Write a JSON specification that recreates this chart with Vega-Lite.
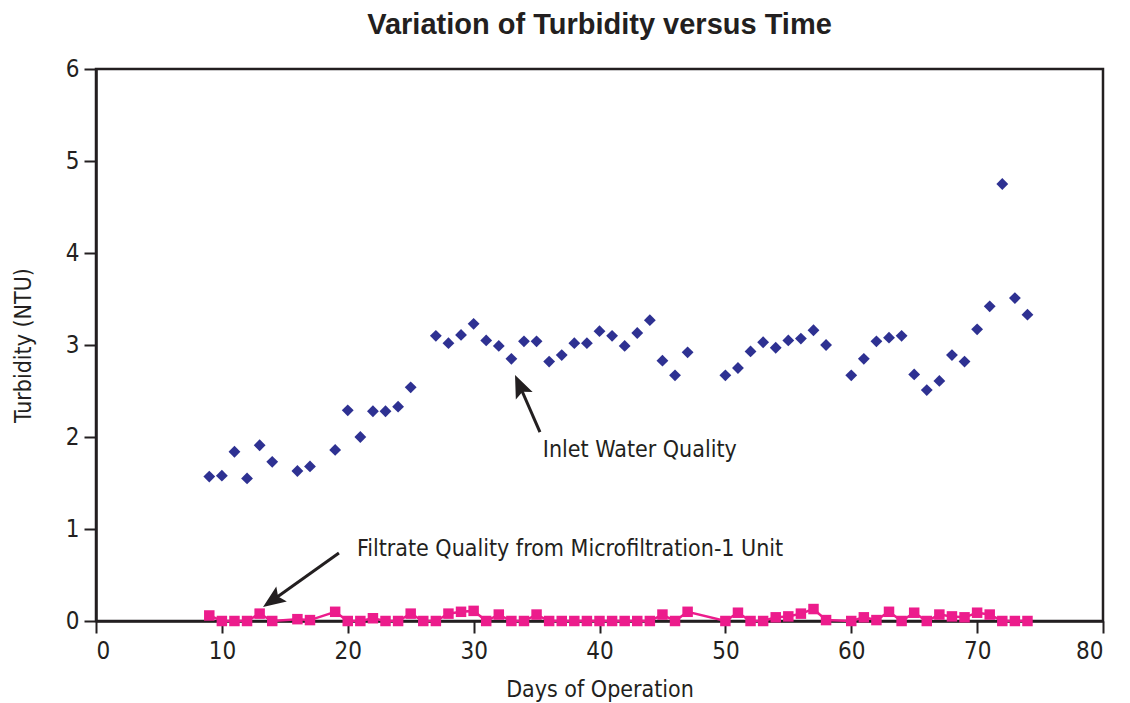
{
  "$schema": "https://vega.github.io/schema/vega-lite/v6.json",
  "width": 1007,
  "height": 552,
  "autosize": {"type": "none"},
  "padding": {"left": 96, "top": 69, "right": 27, "bottom": 82},
  "background": "white",
  "title": {
    "text": "Variation of Turbidity versus Time",
    "font": "Liberation Sans",
    "fontSize": 29,
    "fontWeight": "bold",
    "color": "#231F20",
    "anchor": "middle",
    "offset": 17
  },
  "config": {
    "view": {"stroke": "#231F20", "strokeWidth": 2.5},
    "axis": {
      "domainColor": "#231F20",
      "domainWidth": 2.5,
      "tickColor": "#231F20",
      "tickWidth": 2,
      "tickSize": 12,
      "grid": false,
      "labelFont": "DejaVu Sans Condensed, sans-serif",
      "labelFontSize": 24,
      "labelColor": "#231F20",
      "titleFont": "DejaVu Sans Condensed, sans-serif",
      "titleFontSize": 23,
      "titleFontWeight": "normal",
      "titleColor": "#231F20"
    }
  },
  "datasets": {
    "inlet": [
      {"day": 9, "ntu": 1.57}, {"day": 10, "ntu": 1.58}, {"day": 11, "ntu": 1.84}, {"day": 12, "ntu": 1.55},
      {"day": 13, "ntu": 1.91}, {"day": 14, "ntu": 1.73}, {"day": 16, "ntu": 1.63}, {"day": 17, "ntu": 1.68},
      {"day": 19, "ntu": 1.86}, {"day": 20, "ntu": 2.29}, {"day": 21, "ntu": 2.0}, {"day": 22, "ntu": 2.28},
      {"day": 23, "ntu": 2.28}, {"day": 24, "ntu": 2.33}, {"day": 25, "ntu": 2.54}, {"day": 27, "ntu": 3.1},
      {"day": 28, "ntu": 3.02}, {"day": 29, "ntu": 3.11}, {"day": 30, "ntu": 3.23}, {"day": 31, "ntu": 3.05},
      {"day": 32, "ntu": 2.99}, {"day": 33, "ntu": 2.85}, {"day": 34, "ntu": 3.04}, {"day": 35, "ntu": 3.04},
      {"day": 36, "ntu": 2.82}, {"day": 37, "ntu": 2.89}, {"day": 38, "ntu": 3.02}, {"day": 39, "ntu": 3.02},
      {"day": 40, "ntu": 3.15}, {"day": 41, "ntu": 3.1}, {"day": 42, "ntu": 2.99}, {"day": 43, "ntu": 3.13},
      {"day": 44, "ntu": 3.27}, {"day": 45, "ntu": 2.83}, {"day": 46, "ntu": 2.67}, {"day": 47, "ntu": 2.92},
      {"day": 50, "ntu": 2.67}, {"day": 51, "ntu": 2.75}, {"day": 52, "ntu": 2.93}, {"day": 53, "ntu": 3.03},
      {"day": 54, "ntu": 2.97}, {"day": 55, "ntu": 3.05}, {"day": 56, "ntu": 3.07}, {"day": 57, "ntu": 3.16},
      {"day": 58, "ntu": 3.0}, {"day": 60, "ntu": 2.67}, {"day": 61, "ntu": 2.85}, {"day": 62, "ntu": 3.04},
      {"day": 63, "ntu": 3.08}, {"day": 64, "ntu": 3.1}, {"day": 65, "ntu": 2.68}, {"day": 66, "ntu": 2.51},
      {"day": 67, "ntu": 2.61}, {"day": 68, "ntu": 2.89}, {"day": 69, "ntu": 2.82}, {"day": 70, "ntu": 3.17},
      {"day": 71, "ntu": 3.42}, {"day": 72, "ntu": 4.75}, {"day": 73, "ntu": 3.51}, {"day": 74, "ntu": 3.33}
    ],
    "filtrate": [
      {"day": 9, "ntu": 0.06}, {"day": 10, "ntu": 0.0}, {"day": 11, "ntu": 0.0}, {"day": 12, "ntu": 0.0},
      {"day": 13, "ntu": 0.08}, {"day": 14, "ntu": 0.0}, {"day": 16, "ntu": 0.02}, {"day": 17, "ntu": 0.01},
      {"day": 19, "ntu": 0.1}, {"day": 20, "ntu": 0.0}, {"day": 21, "ntu": 0.0}, {"day": 22, "ntu": 0.03},
      {"day": 23, "ntu": 0.0}, {"day": 24, "ntu": 0.0}, {"day": 25, "ntu": 0.08}, {"day": 26, "ntu": 0.0},
      {"day": 27, "ntu": 0.0}, {"day": 28, "ntu": 0.08}, {"day": 29, "ntu": 0.1}, {"day": 30, "ntu": 0.11},
      {"day": 31, "ntu": 0.0}, {"day": 32, "ntu": 0.07}, {"day": 33, "ntu": 0.0}, {"day": 34, "ntu": 0.0},
      {"day": 35, "ntu": 0.07}, {"day": 36, "ntu": 0.0}, {"day": 37, "ntu": 0.0}, {"day": 38, "ntu": 0.0},
      {"day": 39, "ntu": 0.0}, {"day": 40, "ntu": 0.0}, {"day": 41, "ntu": 0.0}, {"day": 42, "ntu": 0.0},
      {"day": 43, "ntu": 0.0}, {"day": 44, "ntu": 0.0}, {"day": 45, "ntu": 0.07}, {"day": 46, "ntu": 0.0},
      {"day": 47, "ntu": 0.1}, {"day": 50, "ntu": 0.0}, {"day": 51, "ntu": 0.09}, {"day": 52, "ntu": 0.0},
      {"day": 53, "ntu": 0.0}, {"day": 54, "ntu": 0.04}, {"day": 55, "ntu": 0.05}, {"day": 56, "ntu": 0.08},
      {"day": 57, "ntu": 0.13}, {"day": 58, "ntu": 0.01}, {"day": 60, "ntu": 0.0}, {"day": 61, "ntu": 0.04},
      {"day": 62, "ntu": 0.01}, {"day": 63, "ntu": 0.1}, {"day": 64, "ntu": 0.0}, {"day": 65, "ntu": 0.09},
      {"day": 66, "ntu": 0.0}, {"day": 67, "ntu": 0.07}, {"day": 68, "ntu": 0.05}, {"day": 69, "ntu": 0.04},
      {"day": 70, "ntu": 0.09}, {"day": 71, "ntu": 0.07}, {"day": 72, "ntu": 0.0}, {"day": 73, "ntu": 0.0},
      {"day": 74, "ntu": 0.0}
    ],
    "labels": [
      {"day": 35.5, "ntu": 1.86, "label": "Inlet Water Quality"},
      {"day": 20.73, "ntu": 0.78, "label": "Filtrate Quality from Microfiltration-1 Unit"}
    ],
    "shafts": [
      {"day": 35.27, "ntu": 2.054, "day2": 33.6, "ntu2": 2.576},
      {"day": 19.3, "ntu": 0.739, "day2": 13.92, "ntu2": 0.215}
    ],
    "head1": [{"day": 33.29, "ntu": 2.674}],
    "head2": [{"day": 13.27, "ntu": 0.152}]
  },
  "encoding": {
    "x": {
      "field": "day",
      "type": "quantitative",
      "scale": {"domain": [0, 80], "nice": false, "zero": false},
      "axis": {"title": "Days of Operation", "values": [0, 10, 20, 30, 40, 50, 60, 70, 80], "labelPadding": 6, "titlePadding": 15}
    },
    "y": {
      "field": "ntu",
      "type": "quantitative",
      "scale": {"domain": [0, 6], "nice": false, "zero": false},
      "axis": {"title": "Turbidity (NTU)", "values": [0, 1, 2, 3, 4, 5, 6], "labelPadding": 5, "titlePadding": 30}
    }
  },
  "layer": [
    {
      "data": {"name": "filtrate"},
      "mark": {"type": "line", "color": "#EC1C8C", "strokeWidth": 2.5}
    },
    {
      "data": {"name": "filtrate"},
      "mark": {"type": "point", "shape": "square", "filled": true, "color": "#EC1C8C", "size": 110, "opacity": 1}
    },
    {
      "data": {"name": "inlet"},
      "mark": {"type": "point", "shape": "diamond", "filled": true, "color": "#2E3192", "size": 140, "opacity": 1}
    },
    {
      "data": {"name": "labels"},
      "mark": {"type": "text", "align": "left", "baseline": "middle", "font": "DejaVu Sans Condensed, sans-serif", "fontSize": 23, "color": "#231F20"},
      "encoding": {"text": {"field": "label"}}
    },
    {
      "data": {"name": "shafts"},
      "mark": {"type": "rule", "color": "#231F20", "strokeWidth": 3},
      "encoding": {"x2": {"field": "day2"}, "y2": {"field": "ntu2"}}
    },
    {
      "data": {"name": "head1"},
      "mark": {"type": "point", "shape": "M0,0 L-0.65,1.6 L0,1.3 L0.65,1.6 Z", "filled": true, "color": "#231F20", "size": 800, "opacity": 1, "angle": 336}
    },
    {
      "data": {"name": "head2"},
      "mark": {"type": "point", "shape": "M0,0 L-0.65,1.6 L0,1.3 L0.65,1.6 Z", "filled": true, "color": "#231F20", "size": 800, "opacity": 1, "angle": 235}
    }
  ]
}
